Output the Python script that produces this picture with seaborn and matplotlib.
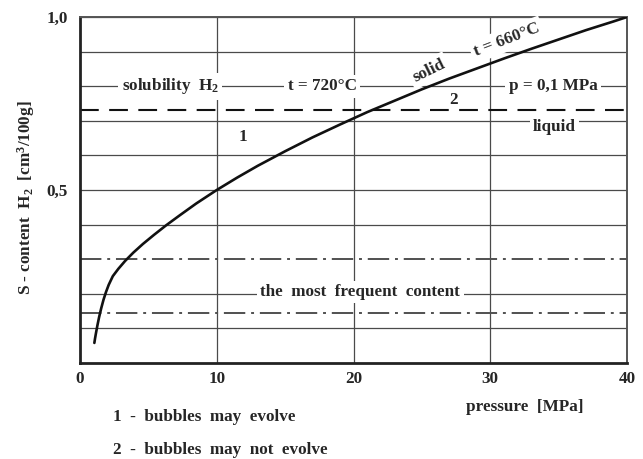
import matplotlib

matplotlib.use("Agg")
import matplotlib.pyplot as plt
import numpy as np
import pandas as pd
import seaborn as sns

# solubility curve
pressure = [1.05, 1.1, 1.18, 1.28, 1.4, 1.55, 1.72, 1.9, 2.1, 2.4, 2.8, 3.3, 3.9, 4.6,
            5.4, 6.3, 7.3, 8.5, 10, 11.5, 13, 15, 17, 19, 21, 23, 25, 27, 29, 31, 33,
            35, 37, 39, 40]
content = [0.058, 0.071, 0.089, 0.110, 0.133, 0.158, 0.183, 0.205, 0.226, 0.251, 0.272,
           0.295, 0.319, 0.344, 0.370, 0.398, 0.427, 0.461, 0.500, 0.536, 0.570, 0.612,
           0.652, 0.689, 0.725, 0.758, 0.791, 0.822, 0.851, 0.880, 0.908, 0.935, 0.962,
           0.987, 1.0]

liquid_level = [0.73]            # dashed, p = 0,1 MPa
frequent_levels = [0.30, 0.145]  # dash-dot, the most frequent content

x_ticks = [0, 10, 20, 30, 40]
x_labels = ["0", "10", "20", "30", "40"]
y_ticks = [0.5, 1.0]
y_labels = ["0,5", "1,0"]
y_grid = [0.1, 0.2, 0.4, 0.6, 0.7, 0.8, 0.9]

sns.set_theme(style="white")
plt.rcParams["font.family"] = ["Liberation Serif", "DejaVu Serif"]
plt.rcParams["font.weight"] = "bold"
plt.rcParams["mathtext.fontset"] = "custom"
plt.rcParams["mathtext.rm"] = "Liberation Serif:bold"
plt.rcParams["mathtext.it"] = "Liberation Serif:bold"
plt.rcParams["mathtext.bf"] = "Liberation Serif:bold"
plt.rcParams["mathtext.default"] = "rm"

FS = 12.3
GRID = "#4a4a4a"

fig = plt.figure(figsize=(6.43, 4.59), dpi=100)
ax = fig.add_axes([80 / 643, 1 - 363 / 459, 547 / 643, 346 / 459])

df = pd.DataFrame({"pressure": pressure, "content": content})

# grid
for v in y_grid + y_ticks:
    ax.axhline(v, color=GRID, lw=0.9, zorder=1)
for v in x_ticks[1:-1]:
    ax.axvline(v, color=GRID, lw=0.9, zorder=1)

for v in liquid_level:
    ax.axhline(v, color="#111111", lw=1.5, ls=(0, (9, 5)), zorder=2)
for v in frequent_levels:
    ax.axhline(v, color="#505050", lw=1.4, ls=(0, (11, 3, 1.5, 3)), zorder=2)

sns.lineplot(data=df, x="pressure", y="content", color="#111111", lw=1.9,
             ax=ax, zorder=5)

box = dict(facecolor="white", edgecolor="none", pad=2.5)
txt = dict(fontsize=FS, ha="center", va="center", bbox=box, zorder=3)
ax.text(6.6, 0.80, "solubility  H$_2$", **txt)
ax.text(17.7, 0.80, "t = 720°C", **txt)
ax.text(34.6, 0.80, "p = 0,1 MPa", **txt)
ax.text(34.7, 0.683, "liquid", **txt)
ax.text(25.5, 0.845, "solid", rotation=26, **txt)
ax.text(31.2, 0.934, "t = 660°C", rotation=21, **txt)
ax.text(20.5, 0.205, "the  most  frequent  content", **txt)
ax.text(11.9, 0.653, "1", fontsize=FS, ha="center", va="center")
ax.text(27.3, 0.760, "2", fontsize=FS, ha="center", va="center")

ax.set_xlim(0, 40)
ax.set_ylim(0, 1.0)
ax.set_xticks(x_ticks, x_labels)
ax.set_yticks(y_ticks, y_labels)
ax.tick_params(axis="x", length=0, pad=6, labelsize=FS)
ax.tick_params(axis="y", length=4, width=1, pad=5, labelsize=FS, color="#222222")
ax.set_xlabel("")
ax.set_ylabel("")

for side in ["left", "bottom"]:
    ax.spines[side].set_linewidth(2.0)
    ax.spines[side].set_color("#222222")
for side in ["top", "right"]:
    ax.spines[side].set_linewidth(1.4)
    ax.spines[side].set_color("#555555")

fig.text(0.0404, 0.5686, "S - content  H$_2$  [cm$^3$/100g]", rotation=90,
         fontsize=FS, ha="center", va="center")
fig.text(525 / 643, 1 - 407 / 459, "pressure  [MPa]", fontsize=FS,
         ha="center", va="center")
fig.text(113 / 643, 1 - 417 / 459, "1  -  bubbles  may  evolve", fontsize=FS,
         ha="left", va="center")
fig.text(113 / 643, 1 - 450 / 459, "2  -  bubbles  may  not  evolve", fontsize=FS,
         ha="left", va="center")

fig.savefig("out.png", dpi=100, facecolor="white")
